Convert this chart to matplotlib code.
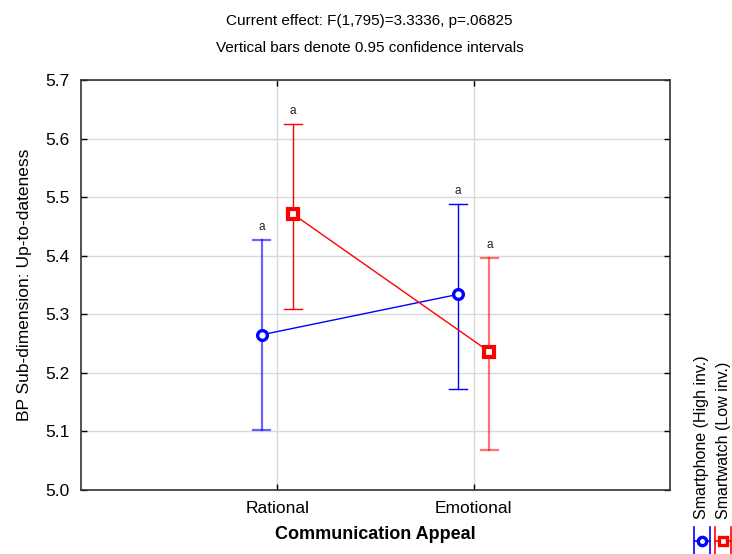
import matplotlib
matplotlib.use("Agg")
import matplotlib.pyplot as plt
from matplotlib.lines import Line2D
import numpy as np

plt.rcParams['font.family'] = ['Liberation Sans', 'DejaVu Sans']

categories = ["Rational", "Emotional"]
series_names = ["Smartphone (High inv.)", "Smartwatch (Low inv.)"]
means = {
    "Smartphone (High inv.)": [5.265, 5.334],
    "Smartwatch (Low inv.)": [5.471, 5.236],
}
ci_low = {
    "Smartphone (High inv.)": [5.102, 5.172],
    "Smartwatch (Low inv.)": [5.309, 5.068],
}
ci_high = {
    "Smartphone (High inv.)": [5.427, 5.488],
    "Smartwatch (Low inv.)": [5.625, 5.396],
}
letters = {
    "Smartphone (High inv.)": ["a", "a"],
    "Smartwatch (Low inv.)": ["a", "a"],
}
yticks = [5.0, 5.1, 5.2, 5.3, 5.4, 5.5, 5.6, 5.7]

styles = {
    "Smartphone (High inv.)": dict(color="#0000ff", marker="o", msize=7, mew=2.4,
                                   offset=-0.08, bar_alpha=[0.6, 1.0]),
    "Smartwatch (Low inv.)": dict(color="#ff0000", marker="s", msize=6.5, mew=3.0,
                                  offset=0.08, bar_alpha=[1.0, 0.55]),
}

fig = plt.figure(figsize=(7.32, 5.54), dpi=100)
ax = fig.add_axes([0.1107, 0.1155, 0.8046, 0.7401])

x = np.arange(1, len(categories) + 1)
for name in series_names:
    st = styles[name]
    xs = x + st["offset"]
    m = np.array(means[name])
    lo = np.array(ci_low[name])
    hi = np.array(ci_high[name])
    for i in range(len(xs)):
        a = st["bar_alpha"][i]
        lw = 1.0 if a == 1.0 else 1.6
        ax.plot([xs[i], xs[i]], [lo[i], hi[i]], color=st["color"], lw=lw, alpha=a, zorder=3)
        for yy in (lo[i], hi[i]):
            ax.plot([xs[i] - 0.045, xs[i] + 0.045], [yy, yy], color=st["color"], lw=lw, alpha=a, zorder=3)
        ax.text(xs[i], hi[i] + 0.012, letters[name][i], ha="center", va="bottom",
                fontsize=8.5, color="#222222")
    ax.plot(xs, m, color=st["color"], lw=1.0, zorder=4)
    ax.plot(xs, m, linestyle="none", marker=st["marker"], markersize=st["msize"],
            markerfacecolor="white", markeredgecolor=st["color"],
            markeredgewidth=st["mew"], zorder=5)

ax.set_xlim(0, 3)
ax.set_ylim(5.0, 5.7)
ax.set_xticks(x)
ax.set_xticklabels(categories, fontsize=12.5)
ax.set_yticks(yticks)
ax.set_yticklabels([f"{v:.1f}" for v in yticks], fontsize=12.5)
ax.grid(True, color="#d9d9d9", lw=1.0, zorder=0)
ax.set_axisbelow(True)
ax.tick_params(direction="in", length=4, width=1, color="black",
               top=True, right=True, pad=8)
for sp in ax.spines.values():
    sp.set_color("#333333")
    sp.set_linewidth(1.2)

ax.set_xlabel("Communication Appeal", fontsize=13, fontweight="bold", labelpad=7)
ax.set_ylabel("BP Sub-dimension: Up-to-dateness", fontsize=12.5, labelpad=10)

fig.text(0.505, 0.962, "Current effect: F(1,795)=3.3336, p=.06825",
         ha="center", va="center", fontsize=11)
fig.text(0.505, 0.913, "Vertical bars denote 0.95 confidence intervals",
         ha="center", va="center", fontsize=11)

# Rotated legend on the right edge
leg_x = [0.959, 0.988]
for name, lx in zip(series_names, leg_x):
    st = styles[name]
    fig.text(lx, 0.063, name, rotation=90, ha="center", va="bottom", fontsize=11.5)
    yc = 0.023
    for dx in (-0.011, 0.011):
        fig.add_artist(Line2D([lx + dx, lx + dx], [yc - 0.026, yc + 0.026],
                              transform=fig.transFigure, color=st["color"], lw=1.2))
    fig.add_artist(Line2D([lx - 0.011, lx + 0.011], [yc, yc],
                          transform=fig.transFigure, color=st["color"], lw=1.2))
    fig.add_artist(Line2D([lx], [yc], transform=fig.transFigure, marker=st["marker"],
                          markersize=6, markerfacecolor="white",
                          markeredgecolor=st["color"], markeredgewidth=2.4, linestyle="none"))

fig.savefig("out.png", dpi=100)
